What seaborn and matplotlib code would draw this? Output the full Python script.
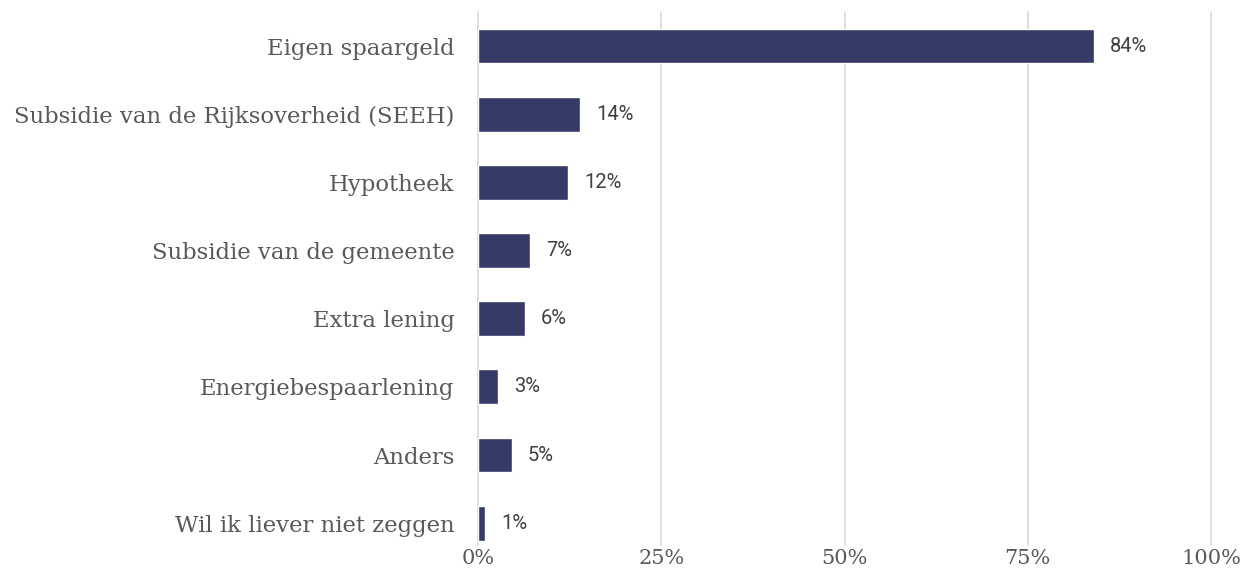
import pandas as pd
import numpy as np
import matplotlib.pyplot as plt
import seaborn as sns
from matplotlib.ticker import PercentFormatter

# data
categories = ["Eigen spaargeld", "Subsidie van de Rijksoverheid (SEEH)", "Hypotheek",
              "Subsidie van de gemeente", "Extra lening", "Energiebespaarlening",
              "Anders", "Wil ik liever niet zeggen"]
shares = [84, 14, 12, 7, 6, 3, 5, 1]
# bar lengths as drawn (slightly more precise than the rounded labels)
bar_values = [84.0, 13.9, 12.3, 7.1, 6.4, 2.7, 4.6, 1.0]
ticks = [0, 25, 50, 75, 100]

df = pd.DataFrame({"category": categories, "value": bar_values, "label": shares})

sns.set_style("white")
plt.rcParams['font.family'] = ['DejaVu Serif']

fig = plt.figure(figsize=(12.44, 5.70), dpi=100)
ax = fig.add_axes([478 / 1244, 1 - 545 / 570, (1211 - 478) / 1244, (545 - 12) / 570])

sns.barplot(data=df, x="value", y="category", order=categories, color="#363a66",
            width=0.51, saturation=1, ax=ax, zorder=3)

ax.set_xlim(0, 100)
ax.set_ylim(7.32, -0.5)
ax.set_xticks(ticks)
ax.xaxis.set_major_formatter(PercentFormatter(decimals=0))
ax.grid(axis="x", color="#d9d9d9", linewidth=1.2, zorder=0)
for gl in ax.get_xgridlines():
    gl.set_clip_on(False)
ax.set_xlabel("")
ax.set_ylabel("")
for s in ax.spines.values():
    s.set_visible(False)
ax.tick_params(axis="both", length=0, colors="#595959")
ax.tick_params(axis="y", labelsize=16.4, pad=17)
ax.tick_params(axis="x", labelsize=15, pad=3)

# value labels
for i, (v, lab) in enumerate(zip(bar_values, shares)):
    ax.text(v + 2.2, i, f"{lab}%", va="center", ha="left", fontsize=14.5,
            family="Roboto", color="#404040")

fig.savefig("out.png", dpi=100)
